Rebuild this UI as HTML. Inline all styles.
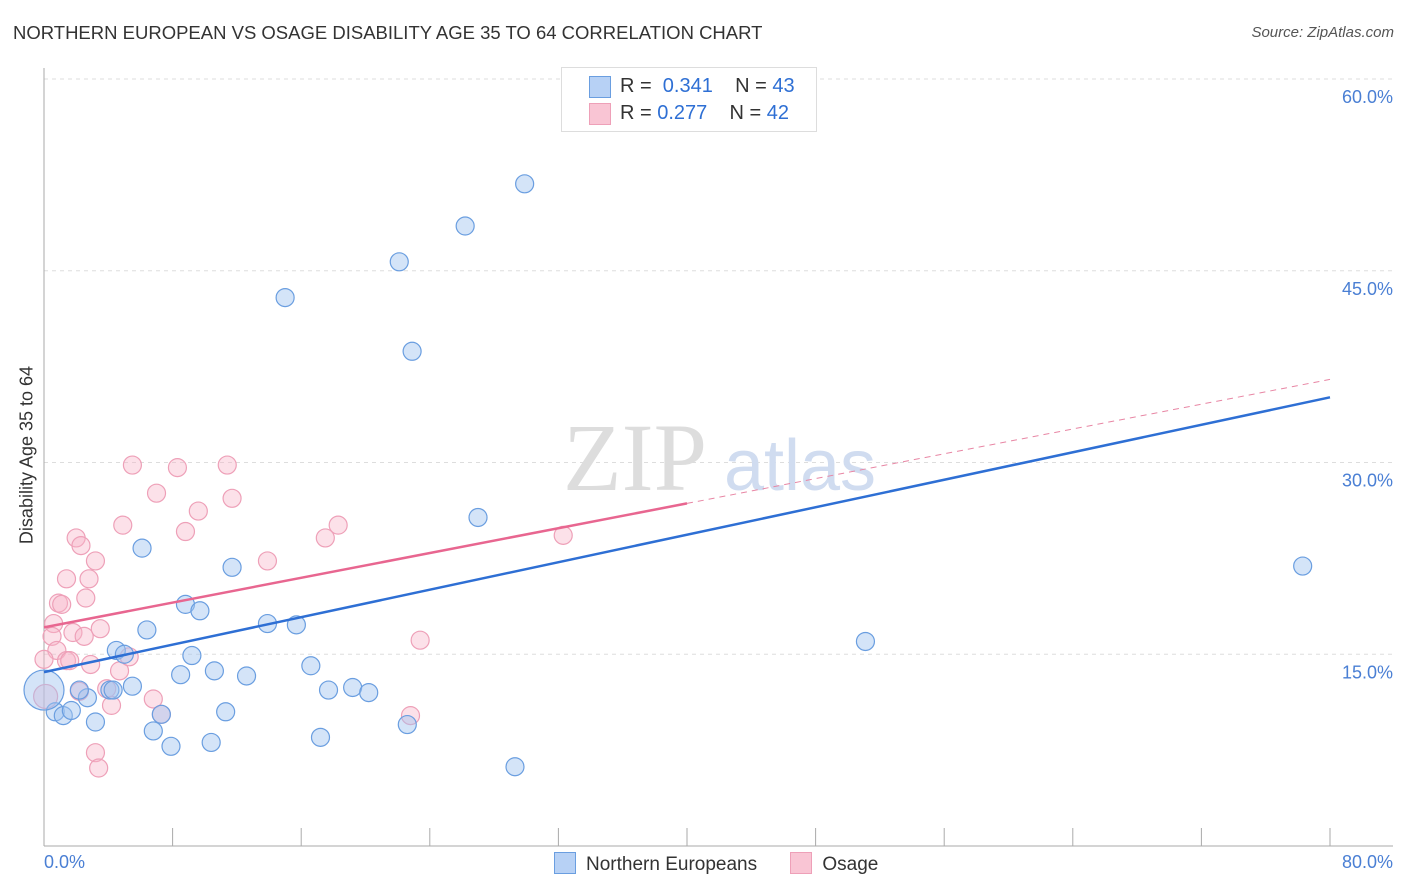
<!DOCTYPE html>
<html><head><meta charset="utf-8">
<style>
body{margin:0;background:#fff;font-family:"Liberation Sans",sans-serif;}
#c{position:relative;width:1406px;height:892px;overflow:hidden}
</style></head>
<body>
<div id="c">
<svg id="s" width="1406" height="892" xmlns="http://www.w3.org/2000/svg"></svg>
</div>
<script>
const yTicks=[15,30,45,60];
const yTickLabels=["15.0%","30.0%","45.0%","60.0%"];
const blueX=[29.9,26.2,22.1,15.0,22.9,27.0,78.3,51.1,6.1,11.7,8.8,9.7,6.4,13.9,15.7,4.5,5.0,9.2,16.6,8.5,10.6,12.6,2.7,2.2,4.1,5.5,17.7,19.2,20.2,0.7,1.2,1.7,3.2,6.8,11.3,7.3,7.9,10.4,17.2,22.6,29.3,0.0,4.3];
const blueY=[51.8,48.5,45.7,42.9,38.7,25.7,21.9,16.0,23.3,21.8,18.9,18.4,16.9,17.4,17.3,15.3,15.0,14.9,14.1,13.4,13.7,13.3,11.6,12.2,12.2,12.5,12.2,12.4,12.0,10.5,10.2,10.6,9.7,9.0,10.5,10.3,7.8,8.1,8.5,9.5,6.2,12.2,12.2];
const pinkX=[5.5,8.3,11.4,7.0,11.7,9.6,4.9,8.8,18.3,17.5,13.9,32.3,2.0,2.3,3.2,1.4,2.8,2.6,0.9,1.1,0.6,3.5,1.8,2.5,0.5,0.8,1.4,1.6,2.9,4.7,5.3,0.0,2.2,3.9,4.2,6.8,7.3,22.8,23.4,3.2,3.4,0.1];
const pinkY=[29.8,29.6,29.8,27.6,27.2,26.2,25.1,24.6,25.1,24.1,22.3,24.3,24.1,23.5,22.3,20.9,20.9,19.4,19.0,18.9,17.4,17.0,16.7,16.4,16.4,15.3,14.5,14.5,14.2,13.7,14.8,14.6,12.1,12.3,11.0,11.5,10.3,10.2,16.1,7.3,6.1,11.7];
const blueSizes=[];blueSizes[41]=20;
const pinkSizes=[];pinkSizes[41]=12;
const blueLine=[13.6,35.1];
const pinkLine=[17.1,36.5];
const pinkSolidEnd=40;
const X0=44,X1=1330,Y0=846,Ytop=79;
const xs=v=>X0+(X1-X0)*v/80;
const ys=v=>Y0-(Y0-Ytop)*v/60;
const s=document.getElementById('s');
const NS="http://www.w3.org/2000/svg";
function mk(t,a,p){const e=document.createElementNS(NS,t);for(const k in a)e.setAttribute(k,a[k]);(p||s).appendChild(e);return e;}
yTicks.forEach((t,i)=>{
 const g=mk('line',{x1:X0,x2:1393,y1:ys(t),y2:ys(t),stroke:'#ddd','stroke-dasharray':'4,4'});
 
 
 const tx=mk('text',{x:1393,y:ys(t)+24,'text-anchor':'end','font-size':18,fill:'#4a7fd4'});
 tx.textContent=yTickLabels[i];
 
 
});
let a=mk('line',{x1:X0,x2:X0,y1:68,y2:Y0,stroke:'#aaa'});

a=mk('line',{x1:X0,x2:1393,y1:Y0,y2:Y0,stroke:'#aaa'});

for(let i=0;i<=10;i++){const t=mk('line',{x1:xs(i*8),x2:xs(i*8),y1:Y0,y2:Y0-18,stroke:'#aaa'});
}
let w=mk('text',{x:635,y:490,'text-anchor':'middle','font-size':96,fill:'#ddd','font-family':'Liberation Serif,serif'});w.textContent='ZIP';

w=mk('text',{x:800,y:490,'text-anchor':'middle','font-size':72,fill:'#d0dcf0'});w.textContent='atlas';

function pts(X,Y,S,fill,stroke,name){X.forEach((v,i)=>{const c=mk('circle',{cx:xs(v),cy:ys(Y[i]),r:S[i]||9,fill:fill,stroke:stroke,'stroke-width':1.2});
});}
pts(pinkX,pinkY,pinkSizes,'rgba(248,180,200,0.4)','#eea0b8','osage-point');
pts(blueX,blueY,blueSizes,'rgba(160,195,240,0.45)','#6a9ee0','northern-european-point');
let l=mk('line',{x1:xs(0),y1:ys(blueLine[0]),x2:xs(80),y2:ys(blueLine[1]),stroke:'#2e6fd4','stroke-width':2.5});

const pAt=v=>pinkLine[0]+(pinkLine[1]-pinkLine[0])*v/80;
l=mk('line',{x1:xs(0),y1:ys(pAt(0)),x2:xs(pinkSolidEnd),y2:ys(pAt(pinkSolidEnd)),stroke:'#e86690','stroke-width':2.5});

l=mk('line',{x1:xs(pinkSolidEnd),y1:ys(pAt(pinkSolidEnd)),x2:xs(80),y2:ys(pAt(80)),stroke:'#e886a4','stroke-width':1,'stroke-dasharray':'6,5'});

</script>
<div style="position:absolute;left:13px;top:22px;font-size:18.5px;color:#333">NORTHERN EUROPEAN VS OSAGE DISABILITY AGE 35 TO 64 CORRELATION CHART</div>
<div style="position:absolute;right:12px;top:24px;font-size:15px;color:#555;font-style:italic">Source: ZipAtlas.com</div>
<div style="position:absolute;left:27px;top:455px;font-size:18px;color:#333;transform:translate(-50%,-50%) rotate(-90deg);white-space:nowrap">Disability Age 35 to 64</div>
<div style="position:absolute;left:44px;top:852px;font-size:18px;color:#4a7fd4">0.0%</div>
<div style="position:absolute;right:13px;top:852px;font-size:18px;color:#4a7fd4">80.0%</div>
<div style="position:absolute;left:561px;top:67px;width:254px;height:63px;border:1px solid #ddd;background:#fff;font-size:20px;color:#333">
 <div style="position:absolute;left:27px;top:8px;width:20px;height:20px;background:#b7d1f5;border:1px solid #6a9ee0"></div>
 <div style="position:absolute;left:58px;top:7px;white-space:pre">R =  <span style="color:#2e6fd4">0.341</span>    N = <span style="color:#2e6fd4">43</span></div>
 <div style="position:absolute;left:27px;top:35px;width:20px;height:20px;background:#f9c5d4;border:1px solid #eea0b8"></div>
 <div style="position:absolute;left:58px;top:34px;white-space:pre">R = <span style="color:#2e6fd4">0.277</span>    N = <span style="color:#2e6fd4">42</span></div>
</div>
<div style="position:absolute;left:554px;top:852px;font-size:19px;color:#333;white-space:nowrap">
 <span><span style="display:inline-block;width:20px;height:20px;background:#b7d1f5;border:1px solid #6a9ee0;vertical-align:-4px;margin-right:10px"></span>Northern Europeans</span>
 <span style="margin-left:28px"><span style="display:inline-block;width:20px;height:20px;background:#f9c5d4;border:1px solid #eea0b8;vertical-align:-4px;margin-right:10px"></span>Osage</span>
</div>
</body></html>
